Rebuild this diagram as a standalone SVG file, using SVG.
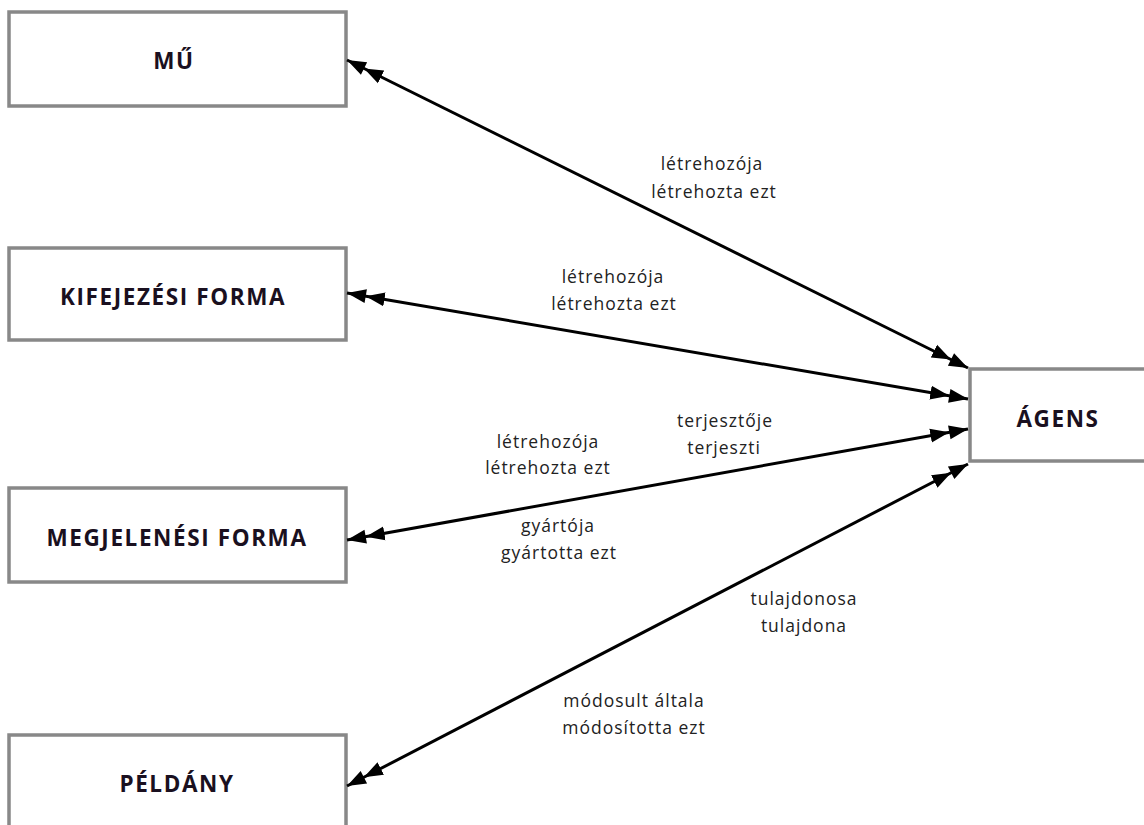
<svg xmlns="http://www.w3.org/2000/svg" width="1144" height="825" viewBox="0 0 1144 825">
<style>
.box{fill:#fff;stroke:#888;stroke-width:3.5}
.nl{font-family:"Open Sans","Liberation Sans",sans-serif;font-weight:bold;font-size:22.5px;letter-spacing:1.6px;fill:#1a1020;text-anchor:middle;dominant-baseline:central}
.el{font-family:"Open Sans","Liberation Sans",sans-serif;font-size:17.5px;letter-spacing:1px;fill:#222;text-anchor:middle;dominant-baseline:central}
.ln{stroke:#000;stroke-width:3;fill:none;marker-start:url(#dbl);marker-end:url(#dbl)}
</style>
<defs>
<marker id="dbl" viewBox="0 0 38 16" refX="38" refY="8" markerWidth="38" markerHeight="16" markerUnits="userSpaceOnUse" orient="auto-start-reverse">
<path d="M0,1 L19,8 L0,15 Z M19,1 L38,8 L19,15 Z" fill="#000"/>
</marker>
</defs>
<rect width="1144" height="825" fill="#fff"/>
<g id="mu"><rect class="box" x="9" y="12" width="337" height="94"/><text class="nl" x="174" y="60">MŰ</text></g>
<g id="kifejezesi"><rect class="box" x="9" y="248" width="337" height="92"/><text class="nl" x="173" y="296">KIFEJEZÉSI FORMA</text></g>
<g id="megjelenesi"><rect class="box" x="9" y="488" width="337" height="94"/><text class="nl" x="177" y="537">MEGJELENÉSI FORMA</text></g>
<g id="peldany"><rect class="box" x="9" y="735" width="337" height="100"/><text class="nl" x="177" y="783">PÉLDÁNY</text></g>
<g id="agens"><rect class="box" x="970" y="369" width="184" height="92"/><text class="nl" x="1058" y="418">ÁGENS</text></g>
<g id="connectors">
<line class="ln" x1="347" y1="60" x2="968" y2="368"/>
<line class="ln" x1="347" y1="293" x2="968" y2="399"/>
<line class="ln" x1="347" y1="540" x2="968" y2="429"/>
<line class="ln" x1="347" y1="786" x2="968" y2="464"/>
<text class="el" x="712" y="163">létrehozója</text>
<text class="el" x="714" y="191">létrehozta ezt</text>
<text class="el" x="613" y="276">létrehozója</text>
<text class="el" x="614" y="303">létrehozta ezt</text>
<text class="el" x="725" y="420">terjesztője</text>
<text class="el" x="724" y="447">terjeszti</text>
<text class="el" x="548" y="441">létrehozója</text>
<text class="el" x="548" y="467">létrehozta ezt</text>
<text class="el" x="558" y="525">gyártója</text>
<text class="el" x="559" y="552">gyártotta ezt</text>
<text class="el" x="804" y="598">tulajdonosa</text>
<text class="el" x="804" y="625">tulajdona</text>
<text class="el" x="634" y="700">módosult általa</text>
<text class="el" x="634" y="727">módosította ezt</text>
</g>
</svg>
